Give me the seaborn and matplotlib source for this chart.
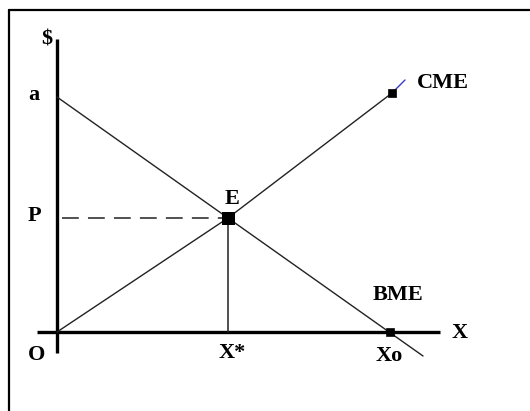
import matplotlib
matplotlib.use("Agg")
import matplotlib.pyplot as plt
import seaborn as sns
import pandas as pd
from matplotlib.lines import Line2D

sns.set_theme(style="white")
plt.rcParams['font.family'] = ['Liberation Serif', 'DejaVu Serif']

# Data (units: arbitrary quantity / price scale)
demand_x = [0, 366]
demand_y = [235, -24]
supply_x = [0, 171, 335]
supply_y = [0, 114, 239]
supply_ext_x = [335, 348]
supply_ext_y = [239, 252]
eq_x = [171]
eq_y = [114]
x0_point = [333]

W, H = 530, 411
ox, oy = 57, 332  # pixel location of origin

fig = plt.figure(figsize=(W / 100, H / 100), dpi=100)
ax = fig.add_axes([0, 0, 1, 1])
ax.set_xlim(-ox, W - ox)
ax.set_ylim(-(H - oy), oy)
ax.axis("off")

line_col = "#222222"

# Axes
ax.plot([0, 0], [-21, 293], color="black", lw=2.4, solid_capstyle="butt")
ax.plot([-20, 383], [0, 0], color="black", lw=2.4, solid_capstyle="butt")

# Demand (BME) and supply (CME)
dem = pd.DataFrame({"x": demand_x, "y": demand_y})
sup = pd.DataFrame({"x": supply_x, "y": supply_y})
ext = pd.DataFrame({"x": supply_ext_x, "y": supply_ext_y})
sns.lineplot(data=dem, x="x", y="y", sort=False, color=line_col, lw=1.0, ax=ax)
sns.lineplot(data=sup, x="x", y="y", sort=False, color=line_col, lw=1.0, ax=ax)
sns.lineplot(data=ext, x="x", y="y", sort=False, color="#3a3ac8", lw=1.0, ax=ax)

# Guides
ax.plot([5, eq_x[0]], [eq_y[0], eq_y[0]], color=line_col, lw=1.1, dashes=(11, 6))
ax.plot([eq_x[0], eq_x[0]], [0, eq_y[0]], color=line_col, lw=1.1)

# Markers
sns.scatterplot(x=eq_x, y=eq_y, marker="s", s=80, color="black", edgecolor="black", ax=ax, zorder=5)
sns.scatterplot(x=[supply_x[-1]], y=[supply_y[-1]], marker="s", s=40, color="black", edgecolor="black", ax=ax, zorder=5)
sns.scatterplot(x=x0_point, y=[0], marker="s", s=35, color="black", edgecolor="black", ax=ax, zorder=5)

# Labels
fs = 16
kw = dict(fontsize=fs, fontweight="bold", color="black", ha="center", va="center")
ax.text(47 - ox, oy - 39, "$", **kw)
ax.text(34 - ox, oy - 95, "a", **kw)
ax.text(34 - ox, oy - 216, "P", **kw)
ax.text(232 - ox, oy - 199, "E", **kw)
ax.text(443 - ox, oy - 83, "CME", **kw)
ax.text(398 - ox, oy - 295, "BME", **kw)
ax.text(460 - ox, oy - 333, "X", **kw)
ax.text(389 - ox, oy - 356, "Xo", **kw)
ax.text(37 - ox, oy - 355, "O", **kw)
ax.text(232 - ox, oy - 353, "X*", **kw)

# Frame (top and left edges)
fig.add_artist(Line2D([8.5 / W, 1], [1 - 10.5 / H, 1 - 10.5 / H], transform=fig.transFigure, color="black", lw=1.6))
fig.add_artist(Line2D([8.5 / W, 8.5 / W], [0, 1 - 10.5 / H], transform=fig.transFigure, color="black", lw=1.6))

fig.savefig("out.png", dpi=100, facecolor="white")
